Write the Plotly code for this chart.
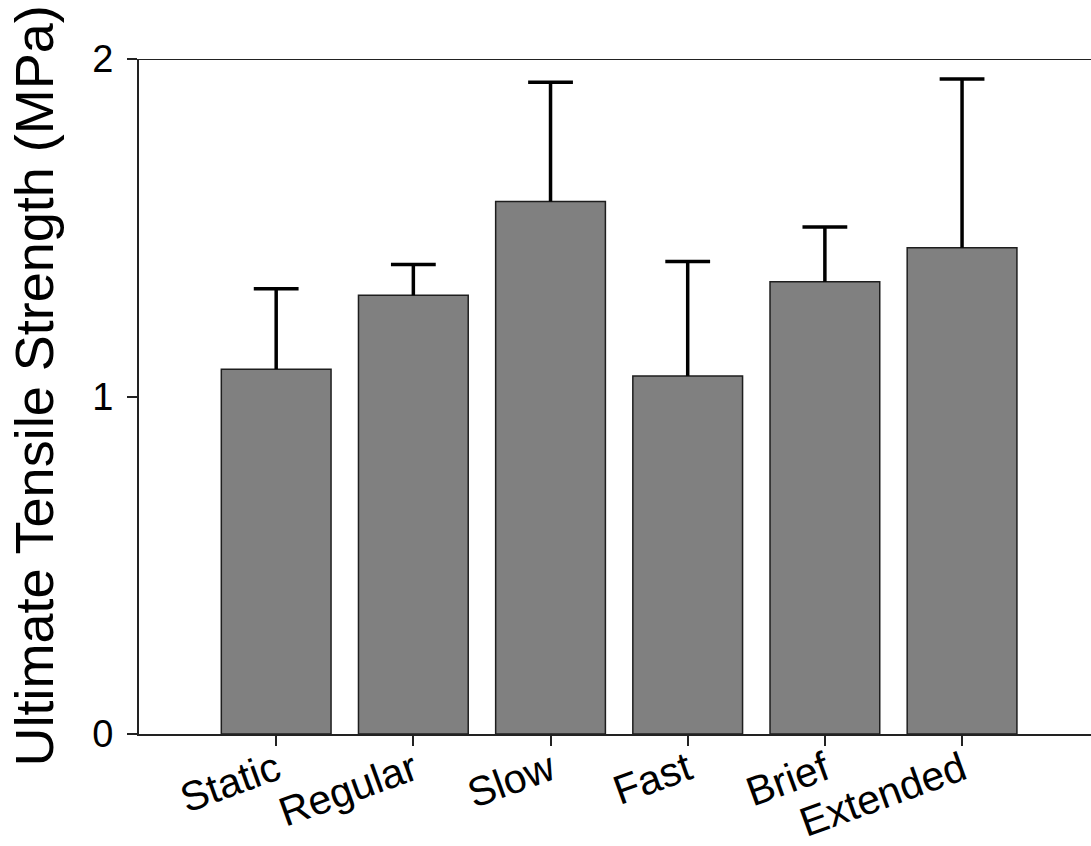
import plotly.graph_objects as go

categories = ["Static", "Regular", "Slow", "Fast", "Brief", "Extended"]
means = [1.081, 1.300, 1.578, 1.061, 1.340, 1.441]
errors = [0.238, 0.091, 0.353, 0.339, 0.162, 0.500]
y_tick_vals = [0, 1, 2]
y_tick_text = ["0", "1", "2"]
y_title = "Ultimate Tensile Strength (MPa)"

xpos = list(range(len(categories)))
tops = [m + e for m, e in zip(means, errors)]

FONT = "Arial, 'Liberation Sans', sans-serif"

fig = go.Figure()
fig.add_trace(go.Bar(
    x=xpos, y=means, width=0.8,
    marker=dict(color="#808080", line=dict(color="#1e1e1e", width=1.5)),
    hoverinfo="y", showlegend=False,
))

# error bar stems (upper only)
stem_x, stem_y = [], []
for x, m, t in zip(xpos, means, tops):
    stem_x += [x, x, None]
    stem_y += [m, t, None]
fig.add_trace(go.Scatter(
    x=stem_x, y=stem_y, mode="lines",
    line=dict(color="black", width=3.5), hoverinfo="skip", showlegend=False,
))
fig.add_trace(go.Scatter(
    x=xpos, y=tops, mode="markers",
    marker=dict(symbol="line-ew", size=32, color="black",
                line=dict(color="black", width=3.5)),
    hoverinfo="skip", showlegend=False,
))

fig.update_layout(
    width=1091, height=846,
    margin=dict(l=139, r=0, t=59, b=112),
    plot_bgcolor="white", paper_bgcolor="white",
    font=dict(family=FONT, color="black"),
    bargap=0.2,
    shapes=[dict(type="line", xref="x domain", yref="y", x0=-0.012, x1=1,
                 y0=y_tick_vals[-1], y1=y_tick_vals[-1],
                 line=dict(color="#222222", width=2))],
    annotations=[dict(text=y_title, textangle=-90, showarrow=False,
                      xref="paper", yref="paper", x=0, y=0.5,
                      xanchor="center", yanchor="middle",
                      xshift=-106, yshift=10,
                      font=dict(size=54, family=FONT, color="black"))],
)
fig.update_xaxes(
    range=[-1.0, 5.94], tickmode="array", tickvals=xpos, ticktext=categories,
    tickangle=-20, tickfont=dict(size=41, family=FONT),
    ticks="outside", ticklen=10, tickwidth=2, tickcolor="#222222",
    ticklabelstandoff=-16,
    showline=True, linecolor="#222222", linewidth=2,
    showgrid=False, zeroline=False, automargin=False,
)
fig.update_yaxes(
    range=[0, 2], tickmode="array", tickvals=y_tick_vals, ticktext=y_tick_text,
    tickfont=dict(size=38, family=FONT),
    ticks="outside", ticklen=10, tickwidth=2, tickcolor="#222222",
    ticklabelstandoff=6,
    showline=True, linecolor="#222222", linewidth=2,
    showgrid=False, zeroline=False, automargin=False,
)

fig.write_html("out.html")
